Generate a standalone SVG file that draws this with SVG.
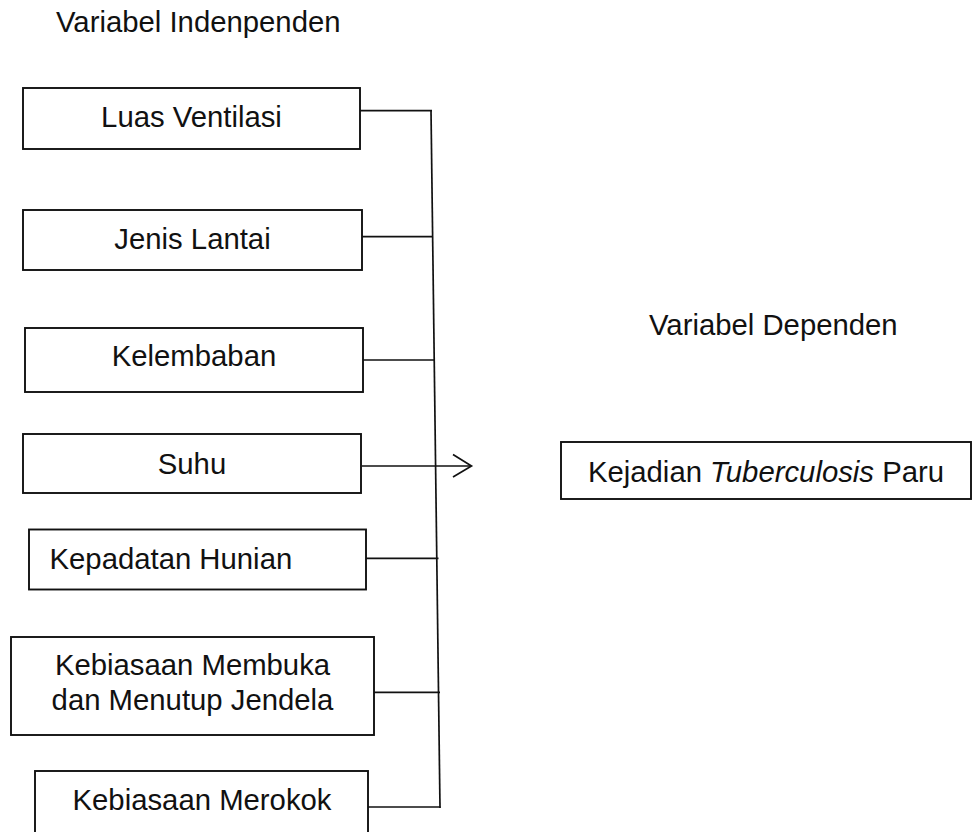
<svg xmlns="http://www.w3.org/2000/svg" width="974" height="832" viewBox="0 0 974 832">
<style>
.box{fill:#fff;stroke:#111;stroke-width:1.9}
.t{font-family:"Liberation Sans",Arial,sans-serif;font-size:29.3px;fill:#111}
.c{text-anchor:middle}
.ln{stroke:#111;stroke-width:1.7;fill:none}
</style>
<rect width="974" height="832" fill="#fff"/>
<text class="t" x="56" y="32">Variabel Indenpenden</text>
<text class="t" x="649" y="335">Variabel Dependen</text>
<g id="connectors">
<line class="ln" x1="431" y1="110" x2="440" y2="808"/>
<line class="ln" x1="360" y1="110.7" x2="432" y2="110.7"/>
<line class="ln" x1="362" y1="236.7" x2="433" y2="236.7"/>
<line class="ln" x1="363" y1="360" x2="434.5" y2="360"/>
<line class="ln" x1="362" y1="466" x2="471" y2="466"/>
<polyline class="ln" points="453,454.5 471.5,466 453,477"/>
<line class="ln" x1="366" y1="558.3" x2="438.5" y2="558.3"/>
<line class="ln" x1="374" y1="692.3" x2="440" y2="692.3"/>
<line class="ln" x1="368" y1="807" x2="440.5" y2="807"/>
</g>
<g id="n1"><rect class="box" x="23" y="88" width="337" height="61"/><text class="t c" x="191.5" y="127">Luas Ventilasi</text></g>
<g id="n2"><rect class="box" x="23" y="210" width="339" height="60"/><text class="t c" x="192.5" y="248.5">Jenis Lantai</text></g>
<g id="n3"><rect class="box" x="25" y="328" width="338" height="64"/><text class="t c" x="194" y="366">Kelembaban</text></g>
<g id="n4"><rect class="box" x="23" y="434" width="338" height="59"/><text class="t c" x="192" y="473.5">Suhu</text></g>
<g id="n5"><rect class="box" x="29" y="529.5" width="337" height="60"/><text class="t" x="49.5" y="568.5">Kepadatan Hunian</text></g>
<g id="n6"><rect class="box" x="11" y="637" width="363" height="98"/><text class="t c" x="192.5" y="675">Kebiasaan Membuka</text><text class="t c" x="192.5" y="709.5">dan Menutup Jendela</text></g>
<g id="n7"><rect class="box" x="35" y="771" width="333" height="75"/><text class="t c" x="202" y="810">Kebiasaan Merokok</text></g>
<g id="target"><rect class="box" x="561" y="442" width="410" height="57"/><text class="t c" x="766" y="482">Kejadian <tspan font-style="italic">Tuberculosis</tspan> Paru</text></g>
</svg>
